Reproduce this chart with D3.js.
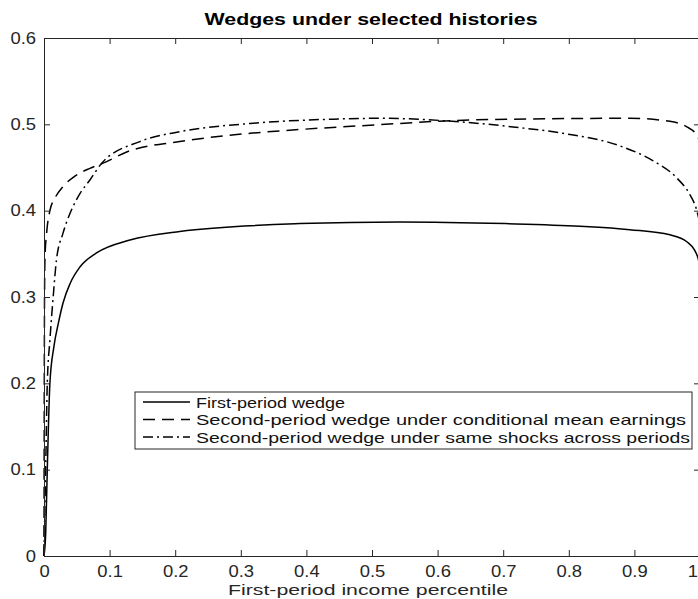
<!DOCTYPE html>
<html>
  <head>
    <title>Wedges under selected histories</title>
    <style>
      html, body { margin: 0; padding: 0; background: #fff; }
      svg { display: block; }
      text { font-family: "Liberation Sans", Arial, Helvetica, sans-serif; fill: #262626; }
    </style>
  </head>
  <body>
    <svg width="698" height="599"></svg>
    <script src="https://d3js.org/d3.v7.min.js"></script>
    <script>
      // values (x = first-period income percentile)
      var firstX  = [0, 0.0026, 0.005, 0.009, 0.015, 0.022, 0.029, 0.04, 0.055, 0.08, 0.131, 0.207, 0.39, 0.543, 0.703, 0.817, 0.893, 0.954, 0.98, 0.992, 0.997, 1];
      var firstY  = [0, 0.027, 0.10, 0.20, 0.242, 0.27, 0.293, 0.316, 0.335, 0.351, 0.366, 0.376, 0.385, 0.387, 0.385, 0.382, 0.378, 0.372, 0.364, 0.354, 0.345, 0.335];

      var condX   = [0, 0.0008, 0.0015, 0.004, 0.009, 0.017, 0.029, 0.047, 0.07, 0.09, 0.126, 0.207, 0.314, 0.39, 0.543, 0.612, 0.715, 0.893, 0.954, 0.98, 0.995, 1];
      var condY   = [0, 0.30, 0.346, 0.374, 0.40, 0.415, 0.428, 0.44, 0.449, 0.455, 0.468, 0.48, 0.4896, 0.494, 0.501, 0.504, 0.506, 0.507, 0.5035, 0.497, 0.4877, 0.48];

      var sameX   = [0, 0.0026, 0.005, 0.009, 0.014, 0.019, 0.029, 0.042, 0.055, 0.07, 0.088, 0.146, 0.207, 0.314, 0.441, 0.512, 0.614, 0.715, 0.791, 0.878, 0.928, 0.9645, 0.985, 0.994, 1];
      var sameY   = [0, 0.103, 0.20, 0.25, 0.30, 0.343, 0.374, 0.401, 0.42, 0.4355, 0.455, 0.48, 0.4915, 0.501, 0.506, 0.507, 0.504, 0.497, 0.4896, 0.475, 0.458, 0.438, 0.418, 0.403, 0.385];

      var seriesNames = [
        'First-period wedge',
        'Second-period wedge under conditional mean earnings',
        'Second-period wedge under same shocks across periods'
      ];
      var xTicks = [0, 0.1, 0.2, 0.3, 0.4, 0.5, 0.6, 0.7, 0.8, 0.9, 1];
      var yTicks = [0, 0.1, 0.2, 0.3, 0.4, 0.5, 0.6];

      var dashes = [null, '12,7', '10,4,2,4'];
      var axisColor = '#262626';

      var svg = d3.select('svg');
      var plotLeft = 44, plotRight = 700, plotTop = 38, plotBottom = 556;

      var xScale = d3.scaleLinear().domain([0, 1]).range([plotLeft, plotRight]);
      var yScale = d3.scaleLinear().domain([0, 0.6]).range([plotBottom, plotTop]);

      // the matlab font looks wider than Liberation Sans, stretch text to the measured width
      function stretch(sel, width) {
        sel.each(function() {
          var w = width || this.getComputedTextLength() * 1.15;
          d3.select(this).attr('textLength', w).attr('lengthAdjust', 'spacingAndGlyphs');
        });
      }

      var series = [
        d3.zip(firstX, firstY),
        d3.zip(condX, condY),
        d3.zip(sameX, sameY)
      ];

      var line = d3.line()
        .x(function(d) { return xScale(d[0]); })
        .y(function(d) { return yScale(d[1]); })
        .curve(d3.curveMonotoneX);

      svg.selectAll('path.series')
        .data(series)
        .enter()
        .append('path')
          .attr('class', 'series')
          .attr('d', line)
          .attr('fill', 'none')
          .attr('stroke', '#000')
          .attr('stroke-width', 1.5)
          .attr('stroke-dasharray', function(d, i) { return dashes[i]; });

      // axes, ticks on all four sides like a boxed matlab plot
      var tickLen = 6;
      function styleAxis(g) {
        g.select('.domain').attr('stroke', axisColor).attr('stroke-width', 1);
        g.selectAll('.tick line').attr('stroke', axisColor);
        g.selectAll('.tick text').attr('fill', axisColor).style('font-size', '16px')
          .style('font-family', '"Liberation Sans", Arial, sans-serif')
          .call(stretch);
      }

      var fmt = function(d) { return d === 0 ? '0' : d3.format('.1f')(d); };

      svg.append('g')
        .attr('transform', 'translate(0,' + plotBottom + ')')
        .call(d3.axisBottom(xScale).tickValues(xTicks).tickFormat(fmt).tickSizeInner(-tickLen).tickSizeOuter(0).tickPadding(10))
        .call(styleAxis);
      svg.append('g')
        .attr('transform', 'translate(0,' + plotTop + ')')
        .call(d3.axisTop(xScale).tickValues(xTicks).tickFormat('').tickSizeInner(-tickLen).tickSizeOuter(0))
        .call(styleAxis);
      svg.append('g')
        .attr('transform', 'translate(' + plotLeft + ',0)')
        .call(d3.axisLeft(yScale).tickValues(yTicks).tickFormat(fmt).tickSizeInner(-tickLen).tickSizeOuter(0).tickPadding(8))
        .call(styleAxis);
      svg.append('g')
        .attr('transform', 'translate(' + plotRight + ',0)')
        .call(d3.axisRight(yScale).tickValues(yTicks).tickFormat('').tickSizeInner(-tickLen).tickSizeOuter(0))
        .call(styleAxis);

      svg.append('text')
        .attr('x', 371)
        .attr('y', 25)
        .attr('text-anchor', 'middle')
        .style('font-size', '16px')
        .style('font-weight', 'bold')
        .style('fill', '#000')
        .text('Wedges under selected histories')
        .call(stretch, 333);

      svg.append('text')
        .attr('x', 368)
        .attr('y', 595)
        .attr('text-anchor', 'middle')
        .style('font-size', '15px')
        .text('First-period income percentile')
        .call(stretch, 280);

      // legend
      var legendWidths = [149, 490, 494];
      var legend = svg.append('g').attr('transform', 'translate(135,392)');
      legend.append('rect')
        .attr('width', 557)
        .attr('height', 57)
        .attr('fill', '#fff')
        .attr('stroke', axisColor)
        .attr('stroke-width', 1);
      var rows = legend.selectAll('g.row')
        .data(seriesNames)
        .enter()
        .append('g')
          .attr('class', 'row')
          .attr('transform', function(d, i) { return 'translate(0,' + (10 + i * 17.5) + ')'; });
      rows.append('line')
        .attr('x1', 8).attr('x2', 55)
        .attr('stroke', '#000')
        .attr('stroke-width', 1.5)
        .attr('stroke-dasharray', function(d, i) { return dashes[i]; });
      rows.append('text')
        .attr('x', 61)
        .attr('y', 5.5)
        .style('font-size', '15px')
        .style('fill', '#111')
        .text(function(d) { return d; })
        .each(function(d, i) { d3.select(this).call(stretch, legendWidths[i]); });
    </script>
  </body>
</html>
